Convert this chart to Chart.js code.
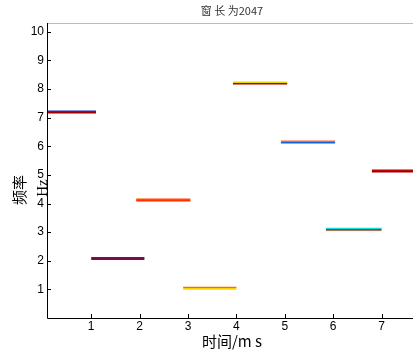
<!DOCTYPE html>
<html>
<head>
<meta charset="utf-8">
<script src="https://cdn.jsdelivr.net/npm/chart.js@4"></script>
<style>
  html, body { margin: 0; padding: 0; background: #fff; overflow: hidden; }
  #wrap { width: 430px; height: 354px; }
</style>
</head>
<body>
<div id="wrap"><canvas id="specChart"></canvas></div>
<script>
// === DATA ===
const segStart = [0.0, 1.0, 1.93, 2.9, 3.93, 4.92, 5.85, 6.8];
const segEnd = [1.1, 2.1, 3.05, 4.0, 5.05, 6.04, 7.0, 8.0];
const freq = [7.2, 2.08, 4.12, 1.04, 8.21, 6.15, 3.1, 5.14];
const topColor = ['#1a2cc8', '#4a1890', '#ff4a00', '#ff6a00', '#e8d800', '#ff6a20', '#10e0e0', '#c00000'];
const botColor = ['#a00000', '#a00010', '#ff3000', '#ffd000', '#b00000', '#1060e0', '#a04020', '#a00000'];
const xTicks = [1, 2, 3, 4, 5, 6, 7];
const yTicks = [1, 2, 3, 4, 5, 6, 7, 8, 9, 10];
const titleText = '窗 长 为2047';
const xTitle = '时间/m s';
const yTitle = '频率';
const yUnit = 'Hz';

const datasets = freq.map((v, i) => ({
  data: [{ x: segStart[i], y: v }, { x: segEnd[i], y: v }],
  borderWidth: 3,
  pointRadius: 0,
  clip: 0,
  borderColor: (c) => {
    const chart = c.chart;
    if (!chart.chartArea) return botColor[i];
    const py = chart.scales.y.getPixelForValue(v);
    const g = chart.ctx.createLinearGradient(0, py - 1.5, 0, py + 1.5);
    g.addColorStop(0, topColor[i]);
    g.addColorStop(0.45, topColor[i]);
    g.addColorStop(0.55, botColor[i]);
    g.addColorStop(1, botColor[i]);
    return g;
  }
}));

// === FRAME, INWARD TICKS AND TEXT ===
const decor = {
  id: 'decor',
  afterDraw(chart) {
    const { ctx, chartArea: a, scales: { x, y } } = chart;
    ctx.save();
    // top border
    ctx.strokeStyle = '#bbbbbb';
    ctx.lineWidth = 1;
    ctx.beginPath();
    ctx.moveTo(a.left, a.top + 0.5);
    ctx.lineTo(a.right, a.top + 0.5);
    ctx.stroke();
    // axes
    ctx.strokeStyle = '#000';
    ctx.beginPath();
    ctx.moveTo(a.left + 0.5, a.top);
    ctx.lineTo(a.left + 0.5, a.bottom + 0.5);
    ctx.lineTo(a.right, a.bottom + 0.5);
    ctx.stroke();
    // inward ticks
    ctx.beginPath();
    xTicks.forEach(t => {
      const px = Math.round(x.getPixelForValue(t)) + 0.5;
      ctx.moveTo(px, a.bottom);
      ctx.lineTo(px, a.bottom - 4);
    });
    yTicks.forEach(t => {
      const py = Math.round(y.getPixelForValue(t)) + 0.5;
      ctx.moveTo(a.left, py);
      ctx.lineTo(a.left + 4, py);
    });
    ctx.stroke();
    // tick labels
    ctx.fillStyle = '#000';
    ctx.font = '12px "Liberation Sans", Arial, sans-serif';
    ctx.textAlign = 'center';
    ctx.textBaseline = 'top';
    xTicks.forEach(t => ctx.fillText(String(t), x.getPixelForValue(t), a.bottom + 3));
    ctx.textAlign = 'right';
    ctx.textBaseline = 'middle';
    yTicks.forEach(t => ctx.fillText(String(t), a.left - 3, y.getPixelForValue(t)));
    // title
    ctx.fillStyle = '#333';
    ctx.font = '11px "Noto Sans CJK SC", sans-serif';
    ctx.textAlign = 'center';
    ctx.textBaseline = 'middle';
    ctx.fillText(titleText, 232, 11);
    // x title
    ctx.fillStyle = '#000';
    ctx.font = '15px "Noto Sans CJK SC", sans-serif';
    ctx.fillText(xTitle, 232, 341);
    // y title
    ctx.save();
    ctx.translate(19, 190);
    ctx.rotate(-Math.PI / 2);
    ctx.font = '15px "Noto Sans CJK SC", sans-serif';
    ctx.fillText(yTitle, 0, 0);
    ctx.restore();
    ctx.save();
    ctx.translate(43, 188);
    ctx.rotate(-Math.PI / 2);
    ctx.font = '15px "Liberation Serif", serif';
    ctx.fillText(yUnit, 0, 0);
    ctx.restore();
    ctx.restore();
  }
};

new Chart(document.getElementById('specChart'), {
  type: 'line',
  data: { datasets },
  options: {
    responsive: true,
    maintainAspectRatio: false,
    animation: false,
    layout: { padding: { top: 23, right: 0, left: 0, bottom: 0 } },
    plugins: { legend: { display: false }, tooltip: { enabled: false } },
    scales: {
      x: {
        type: 'linear',
        min: 0.087,
        max: 8.0,
        grid: { display: false },
        border: { display: false },
        ticks: { display: false },
        afterFit: (s) => { s.height = 36; }
      },
      y: {
        min: 0,
        max: 10.31,
        grid: { display: false },
        border: { display: false },
        ticks: { display: false },
        afterFit: (s) => { s.width = 47; }
      }
    }
  },
  plugins: [decor]
});
</script>
</body>
</html>
